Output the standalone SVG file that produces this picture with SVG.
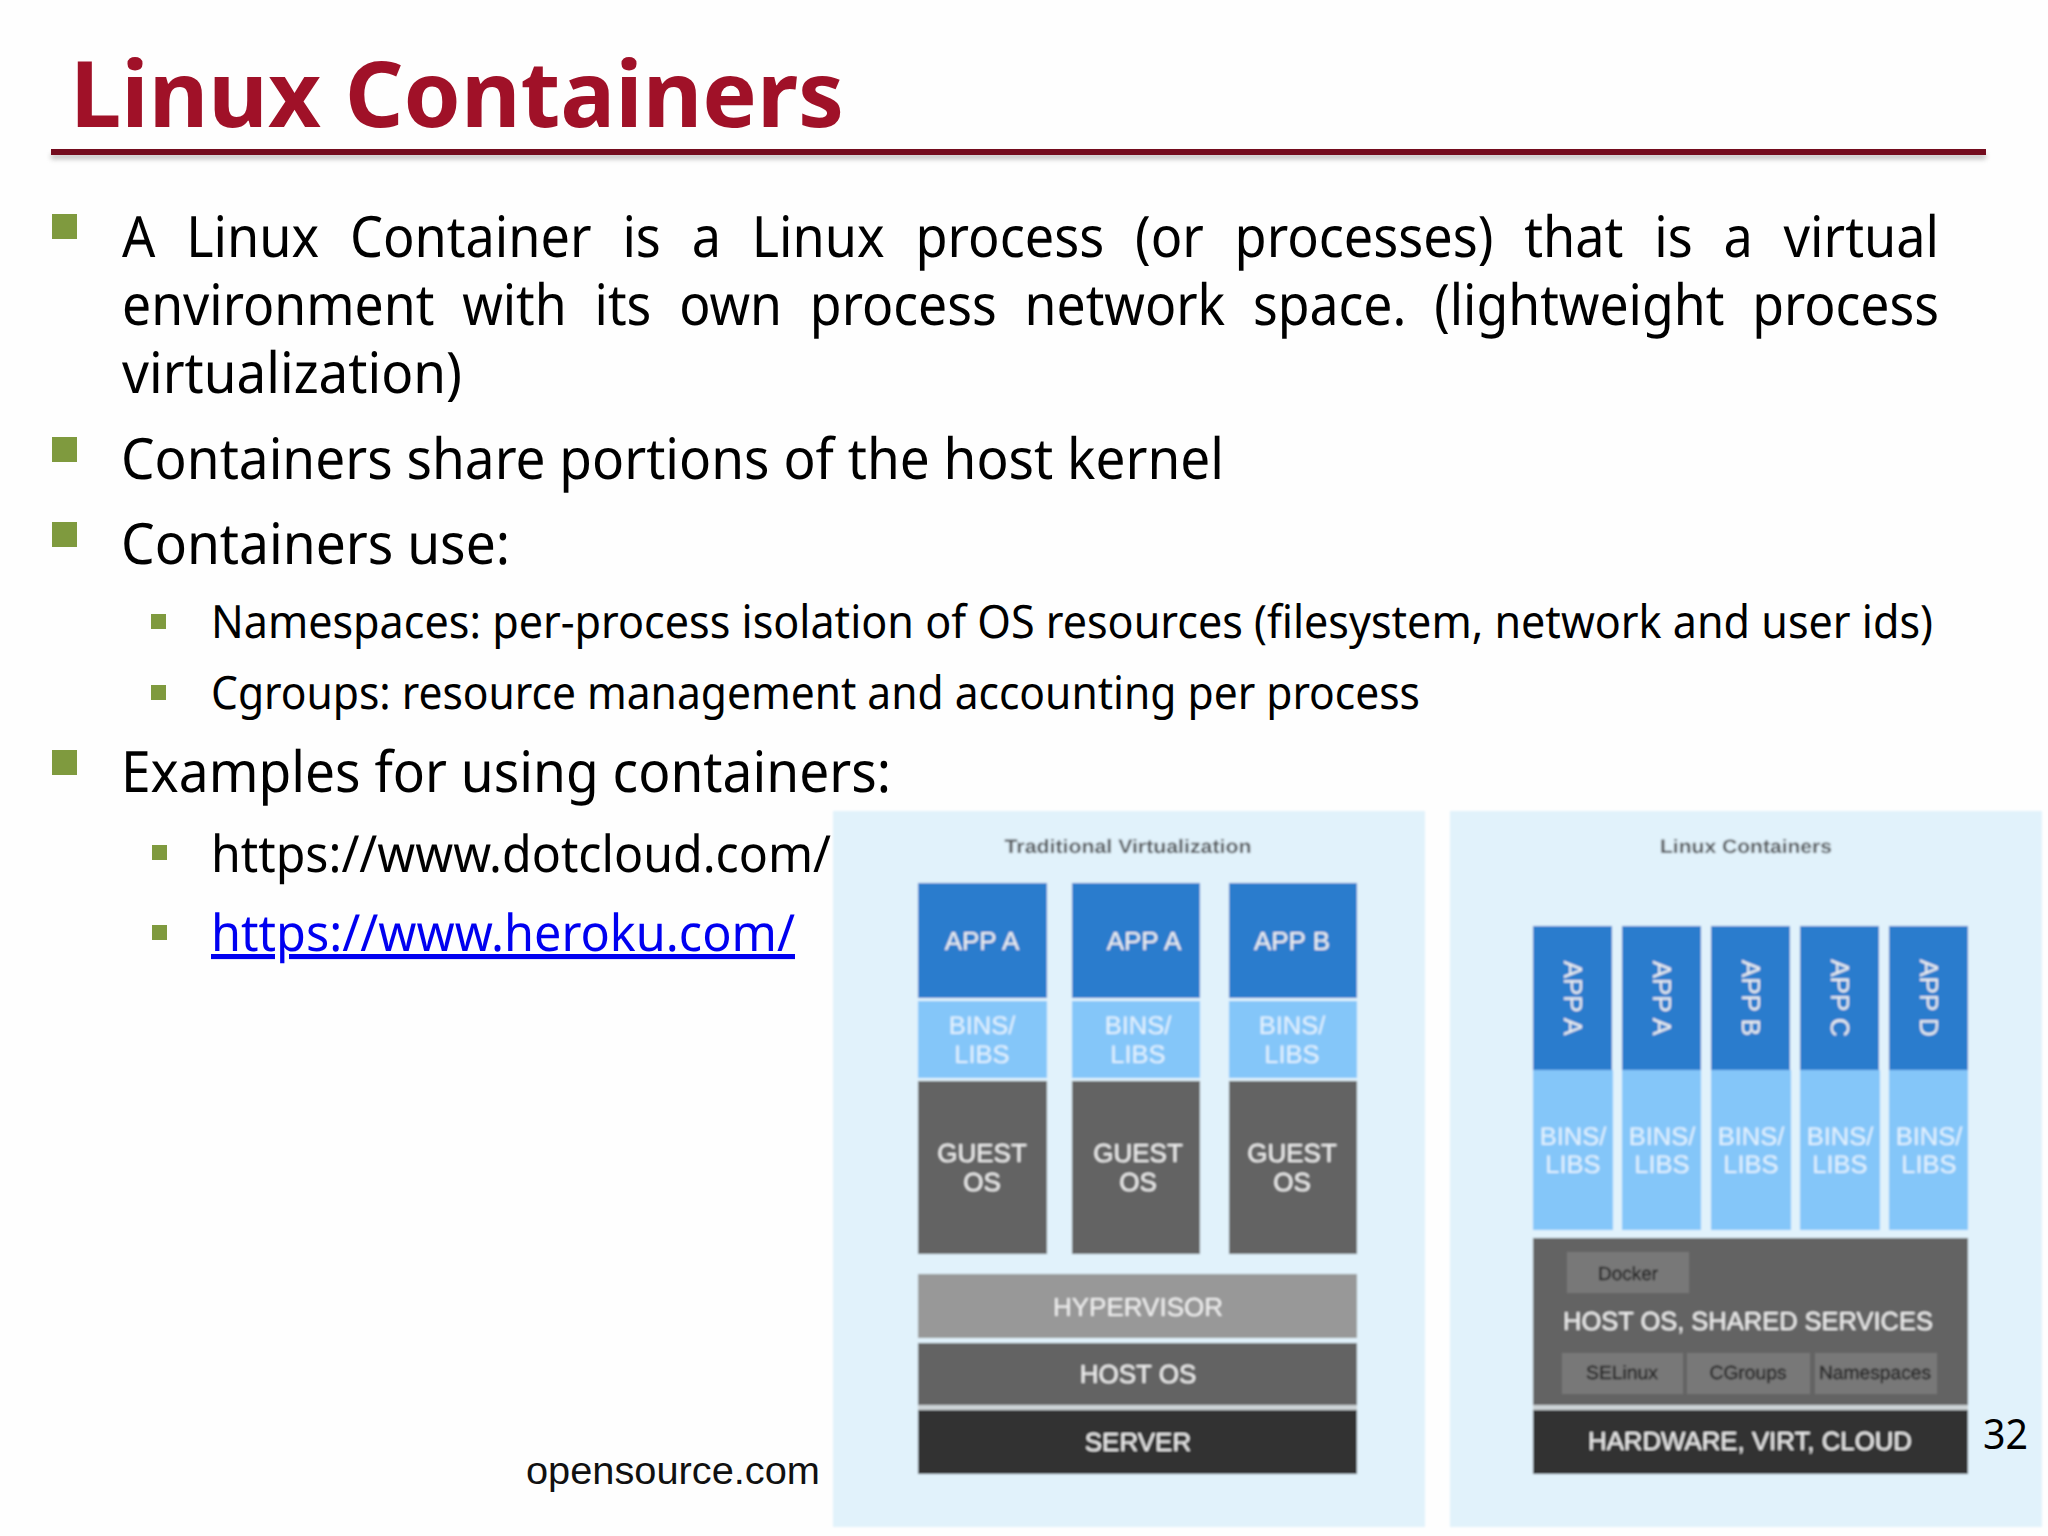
<svg xmlns="http://www.w3.org/2000/svg" width="2048" height="1536" viewBox="0 0 2048 1536">
<style>
.body{font-family:"Noto Sans","DejaVu Sans",sans-serif;fill:#000;text-rendering:geometricPrecision}
.h1{font-size:57px}.h2{font-size:46px}.h3{font-size:51px}
.bb{fill:#7f9a3e}
.d{font-family:"Liberation Sans",Arial,sans-serif;text-anchor:middle;text-rendering:geometricPrecision}
.w{font-size:26px;fill:#f0f0f0;stroke:#f0f0f0;stroke-width:.12}.l{font-size:25.5px;fill:#e4f2fe;stroke:#e4f2fe;stroke-width:.1}
.s{font-size:19px;fill:#262626;stroke:#262626;stroke-width:.45}.t{font-size:19.5px;fill:#55595c;font-weight:bold}
.ap{fill:#2a7ccd}.bi{fill:#84c6f9}.gu{fill:#646464}.hy{fill:#989898}.se{fill:#333}.pa{fill:#e1f2fb}.sm{fill:#787878}
</style>
<defs>
<filter id="soft" x="-2%" y="-2%" width="104%" height="104%"><feGaussianBlur stdDeviation="0.8"/></filter>
<filter id="sh" x="-2%" y="-300%" width="104%" height="700%"><feGaussianBlur stdDeviation="2.5"/></filter>
</defs>
<rect width="2048" height="1536" fill="#fefefe"/>
<g id="title">
<text x="70" y="127" textLength="774" lengthAdjust="spacingAndGlyphs" style="font-family:'Noto Sans','DejaVu Sans',sans-serif;font-weight:700;font-size:92px;fill:#a01128">Linux Containers</text>
<rect x="51" y="154" width="1935" height="5" fill="#888" opacity=".55" filter="url(#sh)"/>
<rect x="51" y="149" width="1935" height="6" fill="#740c1e"/>
</g>
<g id="bullets">
<rect class="bb" x="52" y="214" width="25" height="25"/>
<rect class="bb" x="52" y="437" width="25" height="25"/>
<rect class="bb" x="52" y="522" width="25" height="25"/>
<rect class="bb" x="52" y="750" width="25" height="25"/>
<rect class="bb" x="151" y="614" width="15" height="15"/>
<rect class="bb" x="151" y="685" width="15" height="15"/>
<rect class="bb" x="152" y="845" width="15" height="15"/>
<rect class="bb" x="152" y="925" width="15" height="15"/>
</g>
<g id="text">
<text class="body h1" transform="translate(122,257) scale(.915,1)" word-spacing="18.8" textLength="1985.8" lengthAdjust="spacingAndGlyphs">A Linux Container is a Linux process (or processes) that is a virtual</text>
<text class="body h1" transform="translate(122,325) scale(.915,1)" word-spacing="15.9" textLength="1985.8" lengthAdjust="spacingAndGlyphs">environment with its own process network space. (lightweight process</text>
<text class="body h1" x="122" y="393" textLength="340" lengthAdjust="spacingAndGlyphs">virtualization)</text>
<text class="body h1" x="121" y="479" textLength="1103" lengthAdjust="spacingAndGlyphs">Containers share portions of the host kernel</text>
<text class="body h1" x="121" y="564" textLength="389" lengthAdjust="spacingAndGlyphs">Containers use:</text>
<text class="body h2" x="211" y="638" textLength="1722" lengthAdjust="spacingAndGlyphs">Namespaces: per-process isolation of OS resources (filesystem, network and user ids)</text>
<text class="body h2" x="211" y="709" textLength="1209" lengthAdjust="spacingAndGlyphs">Cgroups: resource management and accounting per process</text>
<text class="body h1" x="121" y="792" textLength="770" lengthAdjust="spacingAndGlyphs">Examples for using containers:</text>
<text class="body h3" x="211" y="872" textLength="620" lengthAdjust="spacingAndGlyphs">https://www.dotcloud.com/</text>
<text class="body h3" x="211" y="951" textLength="584" lengthAdjust="spacingAndGlyphs" style="fill:#0000f0" text-decoration="underline">https://www.heroku.com/</text>
<text x="526" y="1484" textLength="294" lengthAdjust="spacingAndGlyphs" style="font-family:'Liberation Sans',Arial,sans-serif;font-size:38px;fill:#111">opensource.com</text>
</g>
<g id="traditional-virtualization" filter="url(#soft)">
<rect class="pa" x="833" y="811" width="592" height="716"/>
<text class="d t" x="1128" y="853" textLength="247" lengthAdjust="spacingAndGlyphs">Traditional Virtualization</text>
<rect class="ap" x="918" y="883" width="129" height="115"/><rect class="bi" x="918" y="1001" width="129" height="77"/><rect class="gu" x="918" y="1081" width="129" height="173"/>
<rect class="ap" x="1072" y="883" width="128" height="115"/><rect class="bi" x="1072" y="1001" width="128" height="77"/><rect class="gu" x="1072" y="1081" width="128" height="173"/>
<rect class="ap" x="1229" y="883" width="128" height="115"/><rect class="bi" x="1229" y="1001" width="128" height="77"/><rect class="gu" x="1229" y="1081" width="128" height="173"/>
<rect class="hy" x="918" y="1274" width="439" height="64"/><rect class="gu" x="918" y="1343" width="439" height="62"/><rect x="918" y="1405" width="439" height="5" fill="#ccd3d6"/><rect class="se" x="918" y="1410" width="439" height="64"/>
<text class="d w" x="982" y="950">APP A</text><text class="d w" x="1144" y="950">APP A</text><text class="d w" x="1292" y="950">APP B</text>
<text class="d l" x="982" y="1034">BINS/</text><text class="d l" x="982" y="1063">LIBS</text>
<text class="d l" x="1138" y="1034">BINS/</text><text class="d l" x="1138" y="1063">LIBS</text>
<text class="d l" x="1292" y="1034">BINS/</text><text class="d l" x="1292" y="1063">LIBS</text>
<text class="d w" x="982" y="1162">GUEST</text><text class="d w" x="982" y="1191">OS</text>
<text class="d w" x="1138" y="1162">GUEST</text><text class="d w" x="1138" y="1191">OS</text>
<text class="d w" x="1292" y="1162">GUEST</text><text class="d w" x="1292" y="1191">OS</text>
<text class="d w" x="1138" y="1316">HYPERVISOR</text><text class="d w" x="1138" y="1383">HOST OS</text><text class="d w" x="1138" y="1451">SERVER</text>
</g>
<g id="linux-containers" filter="url(#soft)">
<rect class="pa" x="1450" y="811" width="592" height="716"/>
<text class="d t" x="1746" y="853" textLength="172" lengthAdjust="spacingAndGlyphs">Linux Containers</text>
<rect class="ap" x="1533" y="926" width="79" height="144"/><rect class="bi" x="1533" y="1070" width="80" height="160"/>
<rect class="ap" x="1622" y="926" width="79" height="144"/><rect class="bi" x="1622" y="1070" width="79" height="160"/>
<rect class="ap" x="1711" y="926" width="79" height="144"/><rect class="bi" x="1711" y="1070" width="80" height="160"/>
<rect class="ap" x="1800" y="926" width="79" height="144"/><rect class="bi" x="1800" y="1070" width="80" height="160"/>
<rect class="ap" x="1889" y="926" width="79" height="144"/><rect class="bi" x="1889" y="1070" width="79" height="160"/>
<rect class="gu" x="1533" y="1238" width="435" height="167"/><rect x="1533" y="1405" width="435" height="5" fill="#ccd3d6"/><rect class="se" x="1533" y="1410" width="435" height="64"/>
<rect class="sm" x="1567" y="1252" width="122" height="41"/>
<rect class="sm" x="1562" y="1353" width="121" height="41"/><rect class="sm" x="1687" y="1353" width="123" height="41"/><rect class="sm" x="1815" y="1353" width="122" height="41"/>
<text class="d w" transform="translate(1573,998) rotate(90)" y="9">APP A</text><text class="d w" transform="translate(1662,998) rotate(90)" y="9">APP A</text><text class="d w" transform="translate(1751,998) rotate(90)" y="9">APP B</text><text class="d w" transform="translate(1840,998) rotate(90)" y="9">APP C</text><text class="d w" transform="translate(1929,998) rotate(90)" y="9">APP D</text>
<text class="d l" x="1573" y="1145">BINS/</text><text class="d l" x="1573" y="1173">LIBS</text>
<text class="d l" x="1662" y="1145">BINS/</text><text class="d l" x="1662" y="1173">LIBS</text>
<text class="d l" x="1751" y="1145">BINS/</text><text class="d l" x="1751" y="1173">LIBS</text>
<text class="d l" x="1840" y="1145">BINS/</text><text class="d l" x="1840" y="1173">LIBS</text>
<text class="d l" x="1929" y="1145">BINS/</text><text class="d l" x="1929" y="1173">LIBS</text>
<text class="d s" x="1628" y="1280" textLength="60" lengthAdjust="spacingAndGlyphs">Docker</text>
<text class="d w" x="1748" y="1330" textLength="370" lengthAdjust="spacingAndGlyphs">HOST OS, SHARED SERVICES</text>
<text class="d s" x="1622" y="1379" textLength="72" lengthAdjust="spacingAndGlyphs">SELinux</text><text class="d s" x="1748" y="1379" textLength="77" lengthAdjust="spacingAndGlyphs">CGroups</text><text class="d s" x="1875" y="1379" textLength="112" lengthAdjust="spacingAndGlyphs">Namespaces</text>
<text class="d w" x="1750" y="1450" textLength="324" lengthAdjust="spacingAndGlyphs">HARDWARE, VIRT, CLOUD</text>
</g>
<text id="page-number" x="1983" y="1449" textLength="45" lengthAdjust="spacingAndGlyphs" style="font-family:'Noto Sans','DejaVu Sans',sans-serif;font-size:41px;fill:#000">32</text>
</svg>
